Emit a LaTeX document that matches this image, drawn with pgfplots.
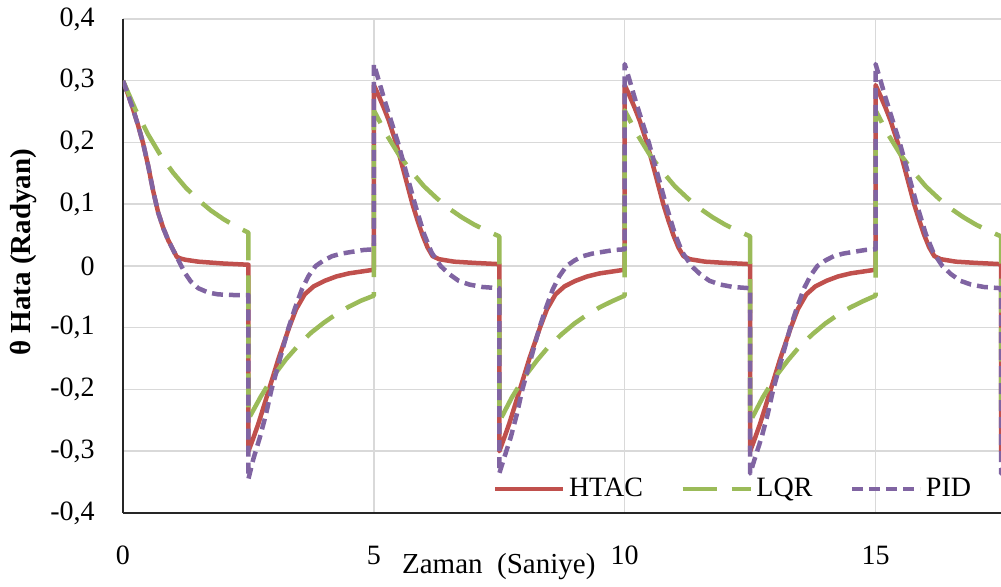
\documentclass[border=0pt]{standalone}
\usepackage{pgfplots}
\pgfplotsset{compat=1.18}
\usepackage{fontspec}
\setmainfont{Liberation Serif}
\definecolor{htac}{HTML}{C0504D}
\definecolor{lqr}{HTML}{9BBB59}
\definecolor{pid}{HTML}{8064A2}
\begin{document}
\begin{tikzpicture}
\begin{axis}[
  name=ax,
  scale only axis, width=439pt, height=247pt,
  xmin=0, xmax=17.5, ymin=-0.4, ymax=0.4,
  axis x line*=bottom, axis y line*=left,
  axis line style={-, line width=1pt, color=black!85},
  xtick={0,5,10,15}, xticklabels={0,5,10,15},
  ytick={-0.4,-0.3,-0.2,-0.1,0,0.1,0.2,0.3,0.4},
  yticklabels={{-0,4},{-0,3},{-0,2},{-0,1},0,{0,1},{0,2},{0,3},{0,4}},
  major tick length=0pt,
  grid=major, grid style={line width=0.75pt, color=black!15},
  xticklabel style={anchor=center, yshift=-21pt, font=\fontsize{14}{16}\selectfont},
  yticklabel style={anchor=east, inner sep=0pt, xshift=-14pt, font=\fontsize{14}{16}\selectfont},
  xlabel={Zaman\ \ (Saniye)},
  xlabel style={at={(axis description cs:0.428,-0.109)}, anchor=center, font=\fontsize{14.5}{16}\selectfont},
  ylabel={\textbf{θ Hata (Radyan)}},
  ylabel style={at={(axis description cs:-0.1128,0.528)}, anchor=center, font=\fontsize{14.5}{16}\selectfont},
  legend columns=-1,
  legend style={at={(axis description cs:0.9704,0.0486)}, anchor=east, draw=none, fill=none,
    font=\fontsize{14}{16}\selectfont, inner sep=0pt,
    nodes={inner sep=1.75pt},
    /tikz/every even column/.append style={column sep=17pt}},
  legend image code/.code={\draw[#1] (0pt,0pt) -- (34pt,0pt);},
  every axis plot/.append style={line width=2.25pt, line join=round},
]
\addplot[htac] table[row sep=newline] {
t y
0 0.300
0.1 0.278
0.2 0.254
0.3 0.228
0.4 0.199
0.5 0.163
0.6 0.122
0.7 0.087
0.8 0.062
0.9 0.042
1.0 0.026
1.07 0.015
1.15 0.012
1.25 0.010
1.5 0.007
2.0 0.004
2.5 0.002
2.5 -0.300
2.6 -0.278
2.7 -0.255
2.8 -0.229
2.91 -0.200
3.1 -0.150
3.31 -0.100
3.45 -0.070
3.62 -0.046
3.8 -0.033
4.02 -0.024
4.25 -0.017
4.5 -0.012
4.75 -0.009
5.0 -0.006
5.0 0.293
5.1 0.275
5.2 0.256
5.3 0.235
5.44 0.200
5.6 0.152
5.77 0.100
5.87 0.074
5.97 0.050
6.07 0.030
6.17 0.016
6.3 0.011
6.6 0.007
7.0 0.005
7.5 0.003
7.5 -0.300
7.6 -0.278
7.7 -0.255
7.8 -0.229
7.91 -0.200
8.1 -0.150
8.31 -0.100
8.45 -0.070
8.62 -0.046
8.8 -0.033
9.02 -0.024
9.25 -0.017
9.5 -0.012
9.75 -0.009
10.0 -0.006
10.0 0.293
10.1 0.275
10.2 0.256
10.3 0.235
10.44 0.200
10.6 0.152
10.77 0.100
10.87 0.074
10.97 0.050
11.07 0.030
11.17 0.016
11.3 0.011
11.6 0.007
12.0 0.005
12.5 0.003
12.5 -0.300
12.6 -0.278
12.7 -0.255
12.8 -0.229
12.91 -0.200
13.1 -0.150
13.31 -0.100
13.45 -0.070
13.62 -0.046
13.8 -0.033
14.02 -0.024
14.25 -0.017
14.5 -0.012
14.75 -0.009
15.0 -0.006
15.0 0.293
15.1 0.275
15.2 0.256
15.3 0.235
15.44 0.200
15.6 0.152
15.77 0.100
15.87 0.074
15.97 0.050
16.07 0.030
16.17 0.016
16.3 0.011
16.6 0.007
17.0 0.005
17.5 0.003
17.5 -0.300
17.6 -0.278
};
\addlegendentry{HTAC}
\addplot[lqr, dash pattern=on 17pt off 7.5pt] table[row sep=newline] {
t y
0 0.300
0.25 0.253
0.5 0.213
0.75 0.179
1.0 0.151
1.25 0.127
1.5 0.107
1.75 0.090
2.0 0.076
2.25 0.064
2.5 0.054
2.5 -0.248
2.75 -0.211
3.0 -0.178
3.25 -0.151
3.5 -0.128
3.75 -0.108
4.0 -0.092
4.25 -0.078
4.5 -0.066
4.75 -0.056
5.0 -0.048
5.0 0.252
5.25 0.213
5.5 0.180
5.75 0.153
6.0 0.129
6.25 0.110
6.5 0.093
6.75 0.079
7.0 0.067
7.25 0.057
7.5 0.048
7.5 -0.252
7.75 -0.213
8.0 -0.180
8.25 -0.153
8.5 -0.129
8.75 -0.110
9.0 -0.093
9.25 -0.079
9.5 -0.067
9.75 -0.057
10.0 -0.048
10.0 0.252
10.25 0.213
10.5 0.180
10.75 0.153
11.0 0.129
11.25 0.110
11.5 0.093
11.75 0.079
12.0 0.067
12.25 0.057
12.5 0.048
12.5 -0.252
12.75 -0.213
13.0 -0.180
13.25 -0.153
13.5 -0.129
13.75 -0.110
14.0 -0.093
14.25 -0.079
14.5 -0.067
14.75 -0.057
15.0 -0.048
15.0 0.252
15.25 0.213
15.5 0.180
15.75 0.153
16.0 0.129
16.25 0.110
16.5 0.093
16.75 0.079
17.0 0.067
17.25 0.057
17.5 0.048
17.5 -0.252
};
\addlegendentry{LQR}
\addplot[pid, dash pattern=on 5.5pt off 3pt] table[row sep=newline] {
t y
0 0.300
0.1 0.278
0.2 0.254
0.3 0.228
0.4 0.199
0.5 0.163
0.6 0.122
0.7 0.087
0.8 0.062
0.9 0.042
1.0 0.026
1.07 0.015
1.15 0.002
1.24 -0.012
1.35 -0.025
1.5 -0.036
1.7 -0.043
1.9 -0.046
2.2 -0.047
2.5 -0.047
2.5 -0.345
2.6 -0.312
2.73 -0.277
2.85 -0.240
2.96 -0.200
3.13 -0.150
3.3 -0.100
3.43 -0.068
3.57 -0.037
3.7 -0.016
3.84 0.000
4.0 0.009
4.17 0.016
4.35 0.020
4.57 0.023
4.8 0.026
5.0 0.027
5.0 0.327
5.1 0.300
5.2 0.272
5.3 0.246
5.48 0.200
5.65 0.150
5.82 0.100
6.0 0.052
6.15 0.022
6.33 0.000
6.5 -0.013
6.69 -0.024
6.9 -0.030
7.16 -0.034
7.5 -0.036
7.5 -0.336
7.6 -0.310
7.73 -0.277
7.85 -0.240
7.96 -0.200
8.13 -0.150
8.3 -0.100
8.43 -0.068
8.57 -0.037
8.7 -0.016
8.84 0.000
9.0 0.009
9.17 0.016
9.35 0.020
9.57 0.023
9.8 0.026
10.0 0.027
10.0 0.327
10.1 0.300
10.2 0.272
10.3 0.246
10.48 0.200
10.65 0.150
10.82 0.100
11.0 0.052
11.15 0.022
11.33 0.000
11.5 -0.013
11.69 -0.024
11.9 -0.030
12.16 -0.034
12.5 -0.036
12.5 -0.336
12.6 -0.310
12.73 -0.277
12.85 -0.240
12.96 -0.200
13.13 -0.150
13.3 -0.100
13.43 -0.068
13.57 -0.037
13.7 -0.016
13.84 0.000
14.0 0.009
14.17 0.016
14.35 0.020
14.57 0.023
14.8 0.026
15.0 0.027
15.0 0.327
15.1 0.300
15.2 0.272
15.3 0.246
15.48 0.200
15.65 0.150
15.82 0.100
16.0 0.052
16.15 0.022
16.33 0.000
16.5 -0.013
16.69 -0.024
16.9 -0.030
17.16 -0.034
17.5 -0.036
17.5 -0.336
17.6 -0.310
};
\addlegendentry{PID}
\end{axis}
\pgfresetboundingbox
\path[use as bounding box] ([xshift=-61.5pt,yshift=-37pt]ax.south west) rectangle ([yshift=9.5pt]ax.north east);
\end{tikzpicture}
\end{document}
